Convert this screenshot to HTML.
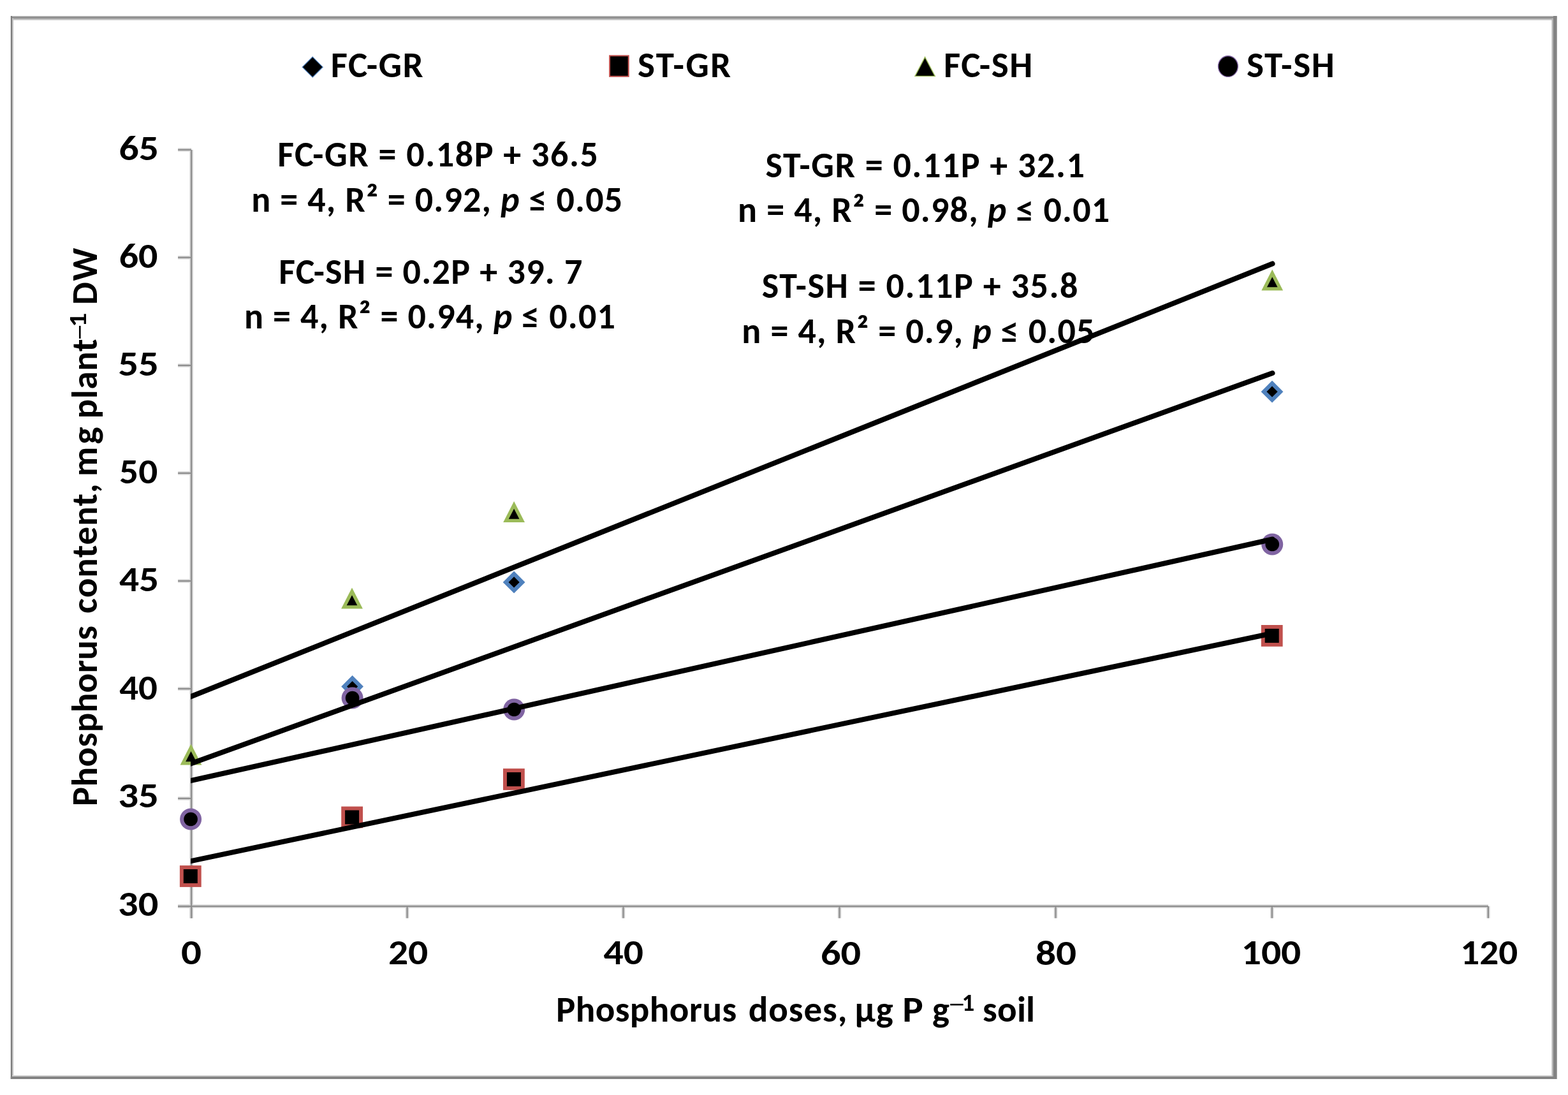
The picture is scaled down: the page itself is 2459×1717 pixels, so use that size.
<!DOCTYPE html>
<html><head><meta charset="utf-8"><title>Phosphorus content vs doses</title>
<style>
html,body{margin:0;padding:0;background:#fff;overflow:hidden;width:2459px;height:1717px;}
svg{display:block;}
text{font-family:Carlito, "Liberation Sans", sans-serif;font-weight:bold;fill:#000;font-size-adjust:0.4849;}
</style></head><body><div id="wrap">
<svg width="2459" height="1717" viewBox="0 0 2459 1717">
<defs><clipPath id="pa"><rect x="299.1" y="150" width="2100" height="1400"/></clipPath></defs>
<g id="all">

<rect x="17" y="25" width="2425" height="1667" fill="#fff"/>
<rect x="17" y="25" width="2425" height="1.3" fill="#b8b8b8"/>
<rect x="17" y="26.3" width="2425" height="2.4" fill="#808080"/>
<rect x="19" y="28.7" width="2417" height="1.3" fill="#a4a4a4"/>
<rect x="19" y="30" width="2415" height="1.7" fill="#cacaca"/>
<rect x="16.8" y="25" width="2.2" height="1667" fill="#7b7b7b"/>
<rect x="19" y="28.7" width="2.1" height="1657.3" fill="#c4c4c4"/>
<rect x="2433.5" y="28.7" width="2.4" height="1659.3" fill="#b4b4b4"/>
<rect x="2435.9" y="25" width="5.1" height="1667" fill="#838383"/>
<rect x="2441" y="25" width="0.9" height="1667" fill="#a0a0a0"/>
<rect x="19" y="1686" width="2414.5" height="2" fill="#d0d0d0"/>
<rect x="16.8" y="1688" width="2422.7" height="4" fill="#838383"/>

<g id="axes"><line x1="300.1" y1="234.9" x2="300.1" y2="1439.7" stroke="#d4d4d4" stroke-width="5.5"/><line x1="279.1" y1="1421.1" x2="2333.9" y2="1421.1" stroke="#d4d4d4" stroke-width="5.5"/><line x1="279.1" y1="234.9" x2="300.1" y2="234.9" stroke="#d4d4d4" stroke-width="5.5"/><line x1="279.1" y1="403.8" x2="300.1" y2="403.8" stroke="#d4d4d4" stroke-width="5.5"/><line x1="279.1" y1="573.0" x2="300.1" y2="573.0" stroke="#d4d4d4" stroke-width="5.5"/><line x1="279.1" y1="741.9" x2="300.1" y2="741.9" stroke="#d4d4d4" stroke-width="5.5"/><line x1="279.1" y1="911.0" x2="300.1" y2="911.0" stroke="#d4d4d4" stroke-width="5.5"/><line x1="279.1" y1="1080.0" x2="300.1" y2="1080.0" stroke="#d4d4d4" stroke-width="5.5"/><line x1="279.1" y1="1252.0" x2="300.1" y2="1252.0" stroke="#d4d4d4" stroke-width="5.5"/><line x1="279.1" y1="1421.1" x2="300.1" y2="1421.1" stroke="#d4d4d4" stroke-width="5.5"/><line x1="300.1" y1="1421.1" x2="300.1" y2="1439.7" stroke="#d4d4d4" stroke-width="5.5"/><line x1="638.6" y1="1421.1" x2="638.6" y2="1439.7" stroke="#d4d4d4" stroke-width="5.5"/><line x1="977.5" y1="1421.1" x2="977.5" y2="1439.7" stroke="#d4d4d4" stroke-width="5.5"/><line x1="1316.5" y1="1421.1" x2="1316.5" y2="1439.7" stroke="#d4d4d4" stroke-width="5.5"/><line x1="1655.5" y1="1421.1" x2="1655.5" y2="1439.7" stroke="#d4d4d4" stroke-width="5.5"/><line x1="1994.8" y1="1421.1" x2="1994.8" y2="1439.7" stroke="#d4d4d4" stroke-width="5.5"/><line x1="2333.9" y1="1421.1" x2="2333.9" y2="1439.7" stroke="#d4d4d4" stroke-width="5.5"/><line x1="300.1" y1="234.9" x2="300.1" y2="1439.7" stroke="#8e8e8e" stroke-width="2.2"/><line x1="279.1" y1="1421.1" x2="2333.9" y2="1421.1" stroke="#8e8e8e" stroke-width="2.2"/><line x1="279.1" y1="234.9" x2="300.1" y2="234.9" stroke="#8e8e8e" stroke-width="2.2"/><line x1="279.1" y1="403.8" x2="300.1" y2="403.8" stroke="#8e8e8e" stroke-width="2.2"/><line x1="279.1" y1="573.0" x2="300.1" y2="573.0" stroke="#8e8e8e" stroke-width="2.2"/><line x1="279.1" y1="741.9" x2="300.1" y2="741.9" stroke="#8e8e8e" stroke-width="2.2"/><line x1="279.1" y1="911.0" x2="300.1" y2="911.0" stroke="#8e8e8e" stroke-width="2.2"/><line x1="279.1" y1="1080.0" x2="300.1" y2="1080.0" stroke="#8e8e8e" stroke-width="2.2"/><line x1="279.1" y1="1252.0" x2="300.1" y2="1252.0" stroke="#8e8e8e" stroke-width="2.2"/><line x1="279.1" y1="1421.1" x2="300.1" y2="1421.1" stroke="#8e8e8e" stroke-width="2.2"/><line x1="300.1" y1="1421.1" x2="300.1" y2="1439.7" stroke="#8e8e8e" stroke-width="2.2"/><line x1="638.6" y1="1421.1" x2="638.6" y2="1439.7" stroke="#8e8e8e" stroke-width="2.2"/><line x1="977.5" y1="1421.1" x2="977.5" y2="1439.7" stroke="#8e8e8e" stroke-width="2.2"/><line x1="1316.5" y1="1421.1" x2="1316.5" y2="1439.7" stroke="#8e8e8e" stroke-width="2.2"/><line x1="1655.5" y1="1421.1" x2="1655.5" y2="1439.7" stroke="#8e8e8e" stroke-width="2.2"/><line x1="1994.8" y1="1421.1" x2="1994.8" y2="1439.7" stroke="#8e8e8e" stroke-width="2.2"/><line x1="2333.9" y1="1421.1" x2="2333.9" y2="1439.7" stroke="#8e8e8e" stroke-width="2.2"/></g>
<g id="texts">
<text id="y65" x="248.9" y="250.6" font-size="55" text-anchor="end" textLength="62.4" lengthAdjust="spacingAndGlyphs">65</text>
<text id="y60" x="247.5" y="420.1" font-size="55" text-anchor="end" textLength="60.8" lengthAdjust="spacingAndGlyphs">60</text>
<text id="y55" x="249.0" y="588.5" font-size="55" text-anchor="end" textLength="63.8" lengthAdjust="spacingAndGlyphs">55</text>
<text id="y50" x="247.2" y="758.0" font-size="55" text-anchor="end" textLength="60.1" lengthAdjust="spacingAndGlyphs">50</text>
<text id="y45" x="249.1" y="927.4" font-size="55" text-anchor="end" textLength="62.2" lengthAdjust="spacingAndGlyphs">45</text>
<text id="y40" x="247.0" y="1096.9" font-size="55" text-anchor="end" textLength="59.8" lengthAdjust="spacingAndGlyphs">40</text>
<text id="y35" x="249.0" y="1266.4" font-size="55" text-anchor="end" textLength="63.8" lengthAdjust="spacingAndGlyphs">35</text>
<text id="y30" x="248.4" y="1435.8" font-size="55" text-anchor="end" textLength="63.3" lengthAdjust="spacingAndGlyphs">30</text>
<text id="x0" x="300.0" y="1512.0" font-size="55" text-anchor="middle" textLength="32.0" lengthAdjust="spacingAndGlyphs">0</text>
<text id="x20" x="640.1" y="1512.0" font-size="55" text-anchor="middle" textLength="62.4" lengthAdjust="spacingAndGlyphs">20</text>
<text id="x40" x="977.7" y="1512.0" font-size="55" text-anchor="middle" textLength="62.4" lengthAdjust="spacingAndGlyphs">40</text>
<text id="x60" x="1318.5" y="1513.0" font-size="55" text-anchor="middle" textLength="63.2" lengthAdjust="spacingAndGlyphs">60</text>
<text id="x80" x="1656.1" y="1513.0" font-size="55" text-anchor="middle" textLength="64.2" lengthAdjust="spacingAndGlyphs">80</text>
<text id="x100" x="1993.5" y="1512.0" font-size="55" text-anchor="middle" textLength="93.5" lengthAdjust="spacingAndGlyphs">100</text>
<text id="x120" x="2335.2" y="1512.0" font-size="55" text-anchor="middle" textLength="89.9" lengthAdjust="spacingAndGlyphs">120</text>
<text id="leg0" x="518.8" y="120.6" font-size="57" textLength="144.9" lengthAdjust="spacing">FC-GR</text>
<text id="leg1" x="1000.1" y="120.6" font-size="57" textLength="146.1" lengthAdjust="spacing">ST-GR</text>
<text id="leg2" x="1479.9" y="120.6" font-size="57" textLength="139.3" lengthAdjust="spacing">FC-SH</text>
<text id="leg3" x="1955.0" y="120.6" font-size="57" textLength="137.8" lengthAdjust="spacing">ST-SH</text>
<text id="e1a" x="435.2" y="261.0" font-size="56" textLength="502.7" lengthAdjust="spacing" xml:space="preserve">FC-GR = 0.18P + 36.5</text>
<text id="e1b" x="394.2" y="332.2" font-size="56" textLength="582.0" lengthAdjust="spacing" xml:space="preserve">n = 4, R² = 0.92, <tspan font-style="italic">p</tspan> ≤ 0.05</text>
<text id="e2a" x="437.2" y="444.5" font-size="56" textLength="476.3" lengthAdjust="spacing" xml:space="preserve">FC-SH = 0.2P + 39. 7</text>
<text id="e2b" x="382.9" y="514.9" font-size="56" textLength="582.0" lengthAdjust="spacing" xml:space="preserve">n = 4, R² = 0.94, <tspan font-style="italic">p</tspan> ≤ 0.01</text>
<text id="e3a" x="1200.6" y="278.4" font-size="56" textLength="500.2" lengthAdjust="spacing" xml:space="preserve">ST-GR = 0.11P + 32.1</text>
<text id="e3b" x="1157.0" y="348.2" font-size="56" textLength="583.2" lengthAdjust="spacing" xml:space="preserve">n = 4, R² = 0.98, <tspan font-style="italic">p</tspan> ≤ 0.01</text>
<text id="e4a" x="1194.7" y="467.1" font-size="56" textLength="495.8" lengthAdjust="spacing" xml:space="preserve">ST-SH = 0.11P + 35.8</text>
<text id="e4b" x="1163.3" y="537.5" font-size="56" textLength="553.2" lengthAdjust="spacing" xml:space="preserve">n = 4, R² = 0.9, <tspan font-style="italic">p</tspan> ≤ 0.05</text>
<text id="xt" y="1602.3" font-size="57"><tspan id="xw1" x="872.0" textLength="283.2" lengthAdjust="spacing">Phosphorus</tspan><tspan id="xw2" x="1173.8" textLength="154.6" lengthAdjust="spacing">doses,</tspan><tspan id="xw3" x="1340.5" textLength="60.2" lengthAdjust="spacing">µg</tspan><tspan id="xw4" x="1415.3" textLength="32.5" lengthAdjust="spacingAndGlyphs">P</tspan><tspan id="xw5" x="1462.0">g</tspan><tspan id="xw6" x="1486.5" textLength="27.3" lengthAdjust="spacingAndGlyphs" font-size="40" baseline-shift="14" font-weight="normal">−</tspan><tspan id="xw7" x="1508.6" font-size="39" baseline-shift="17">1</tspan><tspan id="xw8" x="1541.1" textLength="82.0" lengthAdjust="spacing">soil</tspan></text>
<text id="yt" y="152.4" font-size="57" transform="rotate(-90)"><tspan id="yw1" x="-1264.2" textLength="283.2" lengthAdjust="spacing">Phosphorus</tspan><tspan id="yw2" x="-961.9" textLength="203.7" lengthAdjust="spacing">content,</tspan><tspan id="yw3" x="-747.1" textLength="77.6" lengthAdjust="spacing">mg</tspan><tspan id="yw4" x="-656.4" textLength="125.0" lengthAdjust="spacing">plant</tspan><tspan id="yw5" x="-534.6" textLength="26.7" lengthAdjust="spacingAndGlyphs" font-size="40" baseline-shift="14" font-weight="normal">−</tspan><tspan id="yw6" x="-513.1" textLength="22.4" lengthAdjust="spacingAndGlyphs" font-size="39" baseline-shift="17">1</tspan><tspan id="yw7" x="-478.1" textLength="89.3" lengthAdjust="spacing">DW</tspan></text>
</g>
<g id="legm"><path d="M490.2 89.2L506.2 105.2L490.2 121.2L474.2 105.2Z" fill="#000" stroke="#4f81bd" stroke-width="1.2"/><rect x="956.1" y="87.4" width="29.6" height="32.4" fill="#000" stroke="#c0504d" stroke-width="2"/><path d="M1450.6 89.6L1466.2 119.4L1435.0 119.4Z" fill="#000" stroke="#9bbb59" stroke-width="1.4"/><ellipse cx="1925.9" cy="104.1" rx="15.4" ry="16.3" fill="#000" stroke="#8064a2" stroke-width="1.4"/></g>
<g id="markers"><path d="M552.6 1059.1L570.0 1076.5L552.6 1093.9L535.2 1076.5Z" fill="#4f81bd"/><path d="M552.6 1067.9L561.2 1076.5L552.6 1085.1L544.0 1076.5Z" fill="#000"/><path d="M806.1 895.5L823.5 912.9L806.1 930.3L788.7 912.9Z" fill="#4f81bd"/><path d="M806.1 904.3L814.7 912.9L806.1 921.5L797.5 912.9Z" fill="#000"/><path d="M1995.0 596.8L2012.4 614.2L1995.0 631.6L1977.6 614.2Z" fill="#4f81bd"/><path d="M1995.0 605.6L2003.6 614.2L1995.0 622.8L1986.4 614.2Z" fill="#000"/><rect x="281.9" y="1357.1" width="33.8" height="33.8" fill="#c0504d"/><rect x="287.8" y="1363.0" width="22.0" height="22.0" fill="#000"/><rect x="535.2" y="1264.6" width="33.8" height="33.8" fill="#c0504d"/><rect x="541.1" y="1270.5" width="22.0" height="22.0" fill="#000"/><rect x="789.0" y="1205.1" width="33.8" height="33.8" fill="#c0504d"/><rect x="794.9" y="1211.0" width="22.0" height="22.0" fill="#000"/><rect x="1977.8" y="980.0" width="33.8" height="33.8" fill="#c0504d"/><rect x="1983.7" y="985.9" width="22.0" height="22.0" fill="#000"/><path d="M299.5 1166.5L316.4 1199.5L282.6 1199.5Z" fill="#9bbb59"/><path d="M299.5 1178.1L307.8 1194.2L291.2 1194.2Z" fill="#000"/><path d="M552.0 921.6L568.9 954.6L535.1 954.6Z" fill="#9bbb59"/><path d="M552.0 933.2L560.3 949.3L543.7 949.3Z" fill="#000"/><path d="M806.1 786.1L823.0 819.1L789.2 819.1Z" fill="#9bbb59"/><path d="M806.1 797.7L814.4 813.8L797.8 813.8Z" fill="#000"/><path d="M1995.2 422.6L2012.1 455.6L1978.3 455.6Z" fill="#9bbb59"/><path d="M1995.2 434.2L2003.5 450.3L1986.9 450.3Z" fill="#000"/><circle cx="299.1" cy="1284.5" r="17.0" fill="#8064a2"/><circle cx="299.1" cy="1284.5" r="10.8" fill="#000"/><circle cx="552.6" cy="1094.5" r="17.0" fill="#8064a2"/><circle cx="552.6" cy="1094.5" r="10.8" fill="#000"/><circle cx="806.2" cy="1112.5" r="17.0" fill="#8064a2"/><circle cx="806.2" cy="1112.5" r="10.8" fill="#000"/><circle cx="1995.2" cy="853.5" r="17.0" fill="#8064a2"/><circle cx="1995.2" cy="853.5" r="10.8" fill="#000"/></g>
<g id="lines" stroke="#000" stroke-width="8.0" stroke-linecap="round" clip-path="url(#pa)"><line x1="294.0" y1="1094.4" x2="1995.5" y2="413.5"/><line x1="294.0" y1="1199.2" x2="1995.5" y2="585.0"/><line x1="294.0" y1="1225.3" x2="1995.5" y2="845.5"/><line x1="294.0" y1="1351.3" x2="1995.5" y2="993.0"/></g>
</g>
</svg></div>
</body></html>
